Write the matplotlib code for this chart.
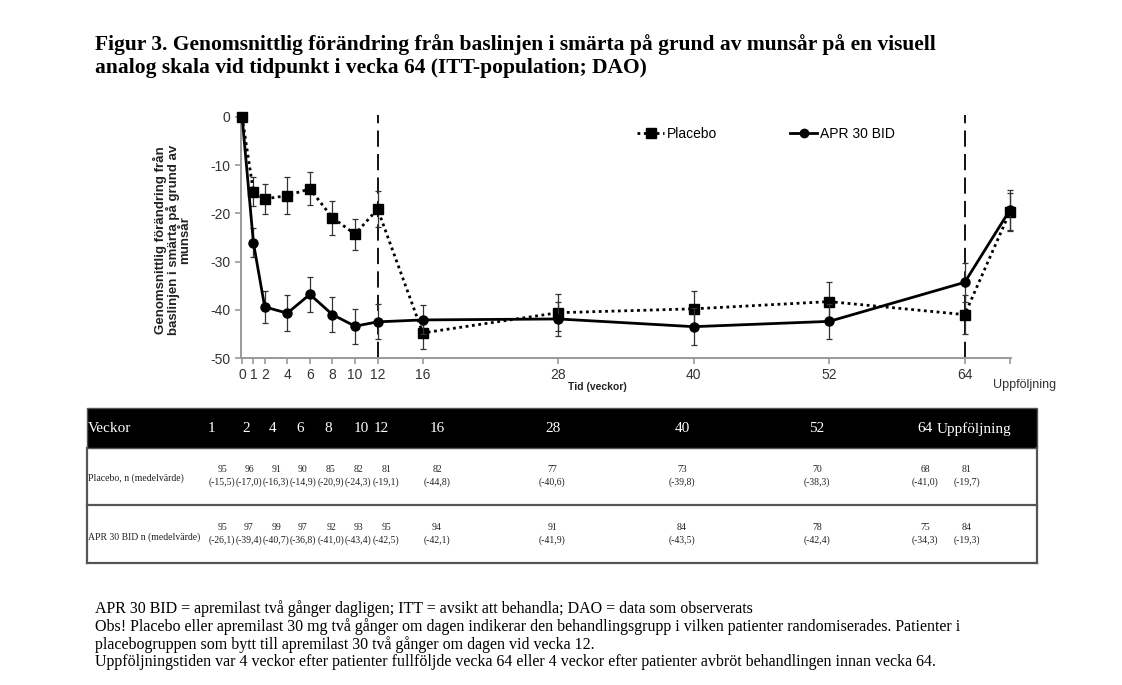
import matplotlib
matplotlib.use("Agg")
import matplotlib.pyplot as plt
from matplotlib.patches import Rectangle
from matplotlib.lines import Line2D

# data (weeks; 68 = follow-up visit)
weeks = [0, 1, 2, 4, 6, 8, 10, 12, 16, 28, 40, 52, 64, 68]
placebo_mean = [0, -15.5, -17.0, -16.3, -14.9, -20.9, -24.3, -19.1, -44.8, -40.6, -39.8, -38.3, -41.0, -19.7]
placebo_err = [0, 3.0, 3.1, 3.8, 3.4, 3.5, 3.2, 3.8, 3.4, 3.8, 3.6, 4.0, 4.0, 4.0]
apr_mean = [0, -26.1, -39.4, -40.7, -36.8, -41.0, -43.4, -42.5, -42.1, -41.9, -43.5, -42.4, -34.3, -19.3]
apr_err = [0, 3.0, 3.3, 3.7, 3.6, 3.6, 3.6, 3.6, 3.0, 3.6, 3.9, 3.7, 4.1, 4.1]

xtick_pos = [0, 1, 2, 4, 6, 8, 10, 12, 16, 28, 40, 52, 64, 68]
xtick_lab = ["0", "1", "2", "4", "6", "8", "10", "12", "16", "28", "40", "52", "64", ""]
vlines = [12, 64]

# table below chart
col_labels = ["1", "2", "4", "6", "8", "10", "12", "16", "28", "40", "52", "64", "Uppföljning"]
placebo_n = [95, 96, 91, 90, 85, 82, 81, 82, 77, 73, 70, 68, 81]
apr_n = [95, 97, 99, 97, 92, 93, 95, 94, 91, 84, 78, 75, 84]

title = ("Figur 3. Genomsnittlig förändring från baslinjen i smärta på grund av munsår på en visuell\n"
         "analog skala vid tidpunkt i vecka 64 (ITT-population; DAO)")
footnotes = [
    "APR 30 BID = apremilast två gånger dagligen; ITT = avsikt att behandla; DAO = data som observerats",
    "Obs! Placebo eller apremilast 30 mg två gånger om dagen indikerar den behandlingsgrupp i vilken patienter randomiserades. Patienter i",
    "placebogruppen som bytt till apremilast 30 två gånger om dagen vid vecka 12.",
    "Uppföljningstiden var 4 veckor efter patienter fullföljde vecka 64 eller 4 veckor efter patienter avbröt behandlingen innan vecka 64.",
]

W, H = 1122, 685
fig = plt.figure(figsize=(W / 100, H / 100), dpi=100)
fig.patch.set_facecolor("white")


def fx(x):
    return x / W


def fy(y):
    return 1 - y / H


sans = "Liberation Sans"
serif = "Liberation Serif"

fig.text(fx(95), fy(56), title, family=serif, fontweight="bold", fontsize=15.5,
         ha="left", va="center", linespacing=1.2)

ax = fig.add_axes([fx(241), fy(358), fx(1011) - fx(241), fy(117) - fy(358)])
ax.set_xlim(-0.1, 68.1)
ax.set_ylim(-50, 0)

for v in vlines:
    ax.axvline(v, ymin=0, ymax=1.01, color="black", lw=1.3, dashes=(9, 4), clip_on=False, zorder=1)

ax.errorbar(weeks, placebo_mean, yerr=placebo_err, color="black", ls=(0, (1, 1.3)), lw=2.0,
            marker="s", ms=7.5, ecolor="#333333", elinewidth=0.9, capsize=2.5, capthick=0.9,
            clip_on=False, zorder=3)
ax.errorbar(weeks, apr_mean, yerr=apr_err, color="black", ls="-", lw=2.0,
            marker="o", ms=6.5, ecolor="#333333", elinewidth=0.9, capsize=2.5, capthick=0.9,
            clip_on=False, zorder=4)

for s in ["top", "right"]:
    ax.spines[s].set_visible(False)
for s in ["left", "bottom"]:
    ax.spines[s].set_color("#9a9a9a")
    ax.spines[s].set_linewidth(1.4)
ax.set_xticks(xtick_pos)
ax.set_xticklabels(xtick_lab)
ax.set_yticks([0, -10, -20, -30, -40, -50])
ax.set_yticklabels(["0", "-10", "-20", "-30", "-40", "-50"])
ax.tick_params(axis="both", colors="#9a9a9a", labelcolor="#333333", labelsize=10, width=1.2, length=4)
for lab in ax.get_xticklabels() + ax.get_yticklabels():
    lab.set_family(sans)

fig.text(fx(597), fy(387), "Tid (veckor)", family=sans, fontweight="bold", fontsize=7.5,
         color="#222222", ha="center", va="center")
fig.text(fx(172), fy(240),
         "Genomsnittlig förändring från\nbaslinjen i smärta på grund av\nmunsår",
         family=sans, fontweight="bold", fontsize=9.5, rotation=90, ha="center", va="center",
         color="#222222", linespacing=0.95)
fig.text(fx(993), fy(385), "Uppföljning", family=sans, fontsize=9, color="#333333", ha="left", va="center")

handles = [
    Line2D([], [], color="black", ls=(0, (1, 1.3)), lw=2.0, marker="s", ms=7),
    Line2D([], [], color="black", ls="-", lw=2.0, marker="o", ms=6),
]
fig.legend(handles, ["Placebo", "APR 30 BID"], ncol=2, frameon=False, loc="center",
           bbox_to_anchor=(fx(766), fy(134)), handlelength=1.9, columnspacing=5.3,
           handletextpad=0.2, prop={"family": sans, "size": 10})

# table
tl, tr = 87, 1037
fig.patches.append(Rectangle((fx(tl), fy(448)), fx(tr) - fx(tl), fy(408) - fy(448),
                             transform=fig.transFigure, facecolor="black", edgecolor="#555555", lw=1))
border = dict(transform=fig.transFigure, color="#555555", lw=1.6)
fig.lines.append(Line2D([fx(tl), fx(tl)], [fy(448), fy(563)], **border))
fig.lines.append(Line2D([fx(tr), fx(tr)], [fy(448), fy(563)], **border))
fig.lines.append(Line2D([fx(tl), fx(tr)], [fy(505), fy(505)], **border))
fig.lines.append(Line2D([fx(tl), fx(tr)], [fy(563), fy(563)], **border))

hdr_x = [211, 246, 273, 300, 328, 361, 381, 437, 553, 682, 817, 925, 974]
fig.text(fx(88), fy(429), "Veckor", family=serif, fontsize=11, color="white", ha="left", va="center")
for x, lab in zip(hdr_x, col_labels):
    fig.text(fx(x), fy(429), lab, family=serif, fontsize=11, color="white", ha="center", va="center")

col_x = [222, 249, 276, 303, 331, 358, 386, 437, 552, 682, 817, 925, 967]
row_kw = dict(family=serif, fontsize=7, color="#222222", va="center")
fig.text(fx(88), fy(478), "Placebo, n (medelvärde)", ha="left", **row_kw)
fig.text(fx(88), fy(537), "APR 30 BID n (medelvärde)", ha="left", **row_kw)


def fmt(v):
    return "(" + f"{v:.1f}".replace(".", ",") + ")"


for x, n, m in zip(col_x, placebo_n, placebo_mean[1:]):
    fig.text(fx(x), fy(469), str(n), ha="center", **row_kw)
    fig.text(fx(x), fy(482), fmt(m), ha="center", **row_kw)
for x, n, m in zip(col_x, apr_n, apr_mean[1:]):
    fig.text(fx(x), fy(527), str(n), ha="center", **row_kw)
    fig.text(fx(x), fy(540), fmt(m), ha="center", **row_kw)

for i, line in enumerate(footnotes):
    fig.text(fx(95), fy(609 + i * 17.7), line, family=serif, fontsize=11.5, color="black",
             ha="left", va="center")

fig.savefig("out.png", dpi=100)
